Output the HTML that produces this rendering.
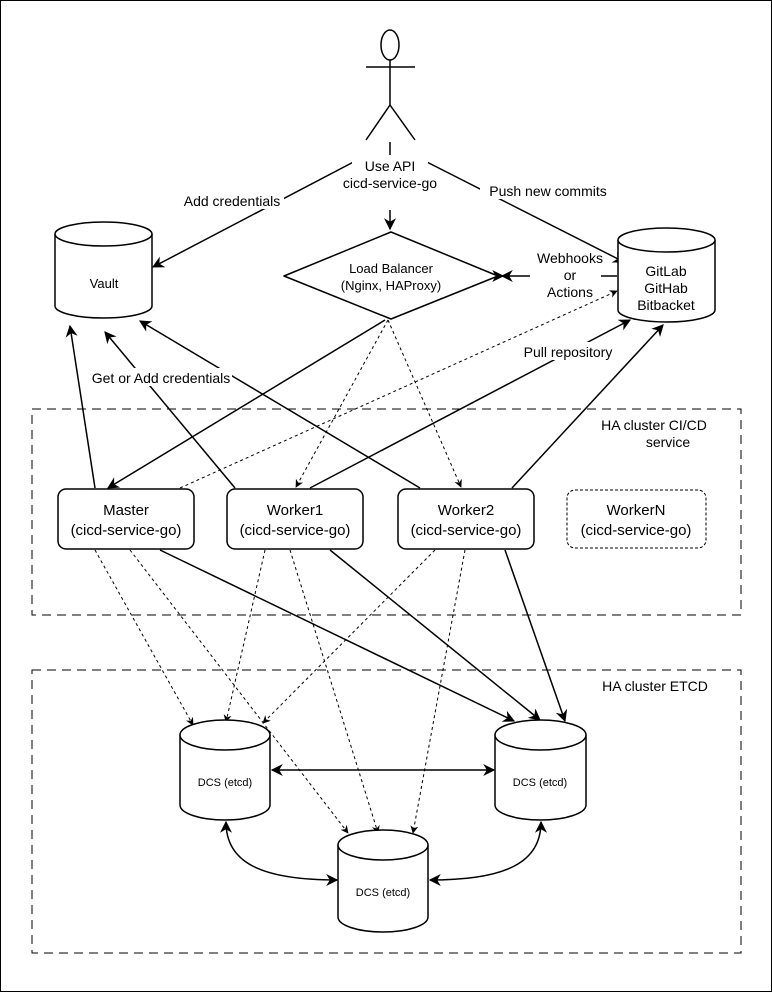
<!DOCTYPE html>
<html><head><meta charset="utf-8"><style>
html,body{margin:0;padding:0;background:#fff}
svg{display:block}
text{font-family:"Liberation Sans",sans-serif;fill:#000}
</style></head><body>
<svg width="772" height="992" viewBox="0 0 772 992" xmlns="http://www.w3.org/2000/svg">
<defs>
<marker id="a" viewBox="0 0 10 10" refX="9" refY="5" markerWidth="8" markerHeight="8" orient="auto-start-reverse" markerUnits="userSpaceOnUse"><path d="M0,0 L10,5 L0,10 L3,5 Z" fill="#000"/></marker>
<marker id="b" viewBox="0 0 10 10" refX="9" refY="5" markerWidth="12" markerHeight="12" orient="auto-start-reverse" markerUnits="userSpaceOnUse"><path d="M0,0 L10,5 L0,10 L3,5 Z" fill="#000"/></marker>
</defs>
<rect x="0.5" y="0.5" width="771" height="991" fill="#fff" stroke="#000"/>

<!-- containers -->
<rect x="32" y="409" width="709" height="206" fill="none" stroke="#000" stroke-dasharray="9 6"/>
<text x="654" y="430" font-size="14" text-anchor="middle">HA cluster CI/CD</text>
<text x="668" y="447" font-size="14" text-anchor="middle">service</text>
<rect x="32" y="670" width="709" height="283" fill="none" stroke="#000" stroke-dasharray="9 6"/>
<text x="655" y="691" font-size="14" text-anchor="middle">HA cluster ETCD</text>

<!-- actor -->
<g stroke="#000" stroke-width="1.5" fill="#fff">
<ellipse cx="390" cy="45" rx="9" ry="15"/>
<line x1="366" y1="67" x2="415" y2="67"/>
<line x1="390" y1="60" x2="390" y2="105"/>
<line x1="390" y1="105" x2="366" y2="140"/>
<line x1="390" y1="105" x2="415" y2="140"/>
</g>

<!-- solid edges -->
<g stroke="#000" stroke-width="1.5" fill="none" marker-end="url(#b)">
<line x1="363" y1="157" x2="153" y2="267"/>
<line x1="390" y1="210" x2="390" y2="229" />
<line x1="417" y1="157" x2="624" y2="262"/>
<line x1="503" y1="276" x2="503" y2="276"/>
<line x1="385" y1="320" x2="108" y2="488"/>
<line x1="310" y1="488" x2="630" y2="320"/>
<line x1="512" y1="488" x2="663" y2="325"/>
<line x1="95" y1="488" x2="70" y2="326"/>
<line x1="235" y1="488" x2="105" y2="332"/>
<line x1="420" y1="488" x2="140" y2="321"/>
<line x1="160" y1="550" x2="514" y2="721"/>
<line x1="330" y1="550" x2="540" y2="720"/>
<line x1="505" y1="550" x2="565" y2="721"/>
</g>
<line x1="390" y1="142" x2="390" y2="155" stroke="#000" stroke-width="1.5"/>
<line x1="617" y1="276" x2="601" y2="276" stroke="#000" stroke-width="1.5"/>
<line x1="530" y1="276" x2="502" y2="276" stroke="#000" stroke-width="1.5" marker-end="url(#b)"/>
<!-- double arrows -->
<g stroke="#000" stroke-width="1.5" fill="none" marker-end="url(#b)" marker-start="url(#b)">
<line x1="272" y1="770" x2="494" y2="770"/>
<path d="M226,822 C226,862 260,880 337,880"/>
<path d="M541,822 C541,862 507,880 430,880"/>
</g>

<!-- dashed edges -->
<g stroke="#000" stroke-width="1" fill="none" stroke-dasharray="3 3" marker-end="url(#a)">
<line x1="180" y1="488" x2="617" y2="291"/>
<line x1="388" y1="320" x2="296" y2="487"/>
<line x1="388" y1="320" x2="461" y2="487"/>
<line x1="95" y1="550" x2="193" y2="725"/>
<line x1="130" y1="550" x2="348" y2="833"/>
<line x1="265" y1="550" x2="226" y2="722"/>
<line x1="290" y1="550" x2="378" y2="833"/>
<line x1="435" y1="550" x2="263" y2="723"/>
<line x1="465" y1="550" x2="413" y2="833"/>
</g>

<!-- labels on edges -->
<g font-size="14" text-anchor="middle">
<rect x="180" y="191" width="104" height="18" fill="#fff"/>
<text x="232" y="206">Add credentials</text>
<rect x="352" y="156" width="76" height="36" fill="#fff"/>
<text x="390" y="171">Use API</text>
<text x="390" y="188">cicd-service-go</text>
<rect x="480" y="181" width="136" height="18" fill="#fff"/>
<text x="548" y="196">Push new commits</text>
<text x="570" y="263">Webhooks</text>
<text x="570" y="280">or</text>
<text x="570" y="297">Actions</text>
<rect x="520" y="342" width="96" height="18" fill="#fff"/>
<text x="568" y="357">Pull repository</text>
<rect x="88" y="368" width="144" height="18" fill="#fff"/>
<text x="161" y="383">Get or Add credentials</text>
</g>

<!-- cylinders -->
<g stroke="#000" stroke-width="1.5" fill="#fff">
<path d="M55,234 v72 a48.5,12 0 0 0 97,0 v-72"/>
<ellipse cx="103.5" cy="234" rx="48.5" ry="12"/>
<path d="M618,240 v70 a48.5,12 0 0 0 97,0 v-70"/>
<ellipse cx="666.5" cy="240" rx="48.5" ry="12"/>
<path d="M180,735 v70 a45,15 0 0 0 90,0 v-70"/>
<ellipse cx="225" cy="735" rx="45" ry="15"/>
<path d="M495,735 v70 a45.5,15 0 0 0 91,0 v-70"/>
<ellipse cx="540.5" cy="735" rx="45.5" ry="15"/>
<path d="M338,845 v72 a45,15 0 0 0 90,0 v-72"/>
<ellipse cx="383" cy="845" rx="45" ry="15"/>
<path d="M391,232 L498,276 L391,319 L284,276 Z" stroke-linejoin="round"/>
</g>
<g text-anchor="middle">
<text x="104" y="288" font-size="13">Vault</text>
<text x="666" y="276" font-size="14">GitLab</text>
<text x="666" y="293" font-size="14">GitHab</text>
<text x="666" y="310" font-size="14">Bitbacket</text>
<text x="391" y="273" font-size="13">Load Balancer</text>
<text x="391" y="290" font-size="13">(Nginx, HAProxy)</text>
<text x="225" y="786" font-size="11">DCS (etcd)</text>
<text x="540" y="786" font-size="11">DCS (etcd)</text>
<text x="383" y="896" font-size="11">DCS (etcd)</text>
</g>

<!-- service boxes -->
<g stroke="#000" stroke-width="1.5" fill="#fff">
<rect x="58" y="489" width="136" height="60" rx="8"/>
<rect x="227" y="489" width="136" height="60" rx="8"/>
<rect x="398" y="489" width="136" height="60" rx="8"/>
<rect x="567" y="490" width="139" height="58" rx="8" stroke-width="1" stroke-dasharray="3 2"/>
</g>
<g font-size="15" text-anchor="middle">
<text x="126" y="515">Master</text><text x="126" y="535">(cicd-service-go)</text>
<text x="295" y="515">Worker1</text><text x="295" y="535">(cicd-service-go)</text>
<text x="466" y="515">Worker2</text><text x="466" y="535">(cicd-service-go)</text>
<text x="636" y="515">WorkerN</text><text x="636" y="535">(cicd-service-go)</text>
</g>
</svg>
</body></html>
